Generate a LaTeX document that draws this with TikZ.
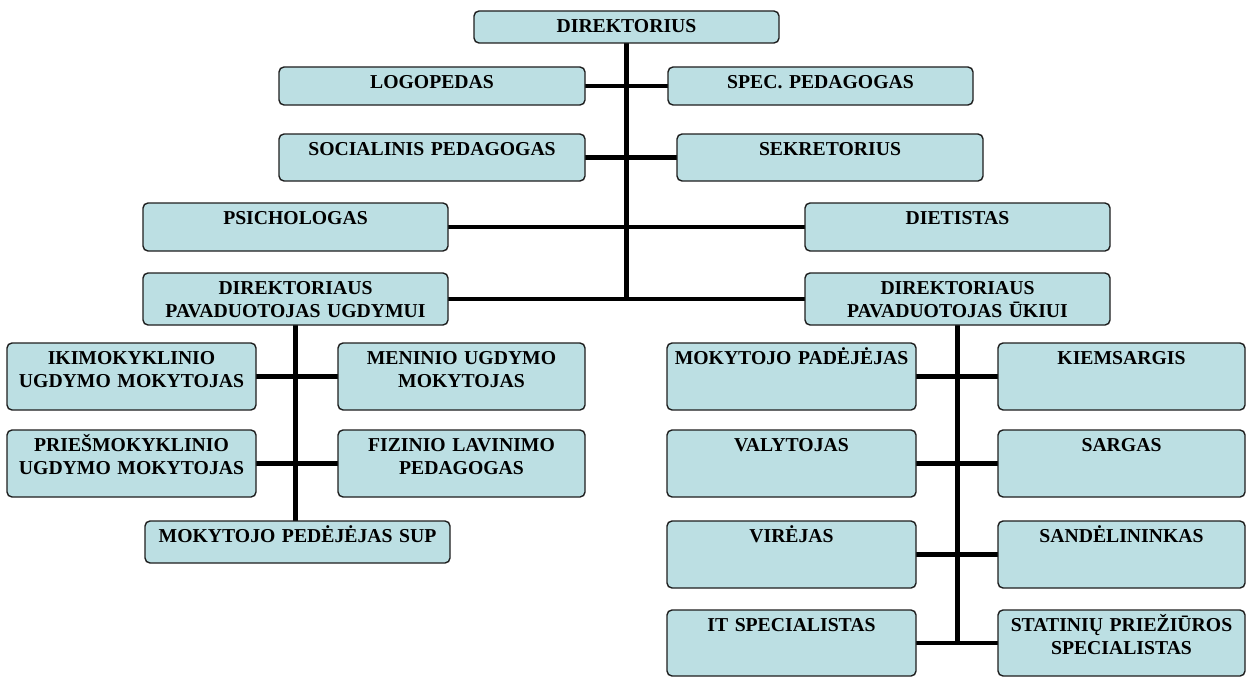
\documentclass[tikz,border=0pt]{standalone}
\usepackage{fontspec}
\setmainfont{Liberation Serif}
\usetikzlibrary{backgrounds}
\definecolor{boxfill}{RGB}{188,223,227}
\definecolor{boxline}{RGB}{30,30,30}
\tikzset{
  orgbox/.style={draw=boxline, line width=1.4pt, fill=boxfill, rounded corners=5pt,
    anchor=north west, inner sep=0pt, outer sep=0pt},
  orglab/.style={anchor=base, yshift=-21.5pt, text width=300pt, align=center,
    inner sep=0pt, text=black, font=\fontsize{19.7}{23}\selectfont\bfseries},
  vline/.style={line width=5pt, black},
  hline/.style={line width=4.6pt, black}
}
\newcommand{\OrgBox}[6]{\node[orgbox, minimum width={#4-#2}, minimum height={#5-#3},
  label={[orglab]north:#6}] (#1) at (#2,#3) {};}
\begin{document}
\begin{tikzpicture}[x=1pt,y=-1pt]
\useasboundingbox (0,0) rectangle (1252,677);
\OrgBox{dir}{474}{11}{779}{43}{DIREKTORIUS}
\OrgBox{logo}{279}{67}{585}{105}{LOGOPEDAS}
\OrgBox{spec}{668}{67}{973}{105}{SPEC. PEDAGOGAS}
\OrgBox{soc}{279}{134}{585}{181}{SOCIALINIS PEDAGOGAS}
\OrgBox{sek}{677}{134}{983}{181}{SEKRETORIUS}
\OrgBox{psi}{143}{203}{448}{251}{PSICHOLOGAS}
\OrgBox{diet}{805}{203}{1110}{251}{DIETISTAS}
\OrgBox{pu}{143}{273}{448}{325}{DIREKTORIAUS\\PAVADUOTOJAS UGDYMUI}
\OrgBox{pk}{805}{273}{1110}{325}{DIREKTORIAUS\\PAVADUOTOJAS ŪKIUI}
\OrgBox{iki}{7}{343}{256}{410}{IKIMOKYKLINIO\\UGDYMO MOKYTOJAS}
\OrgBox{men}{338}{343}{585}{410}{MENINIO UGDYMO\\MOKYTOJAS}
\OrgBox{pries}{7}{430}{256}{497}{PRIEŠMOKYKLINIO\\UGDYMO MOKYTOJAS}
\OrgBox{fiz}{338}{430}{585}{497}{FIZINIO LAVINIMO\\PEDAGOGAS}
\OrgBox{sup}{145}{521}{450}{563}{MOKYTOJO PEDĖJĖJAS SUP}
\OrgBox{mp}{667}{343}{916}{410}{MOKYTOJO PADĖJĖJAS}
\OrgBox{kiem}{998}{343}{1245}{410}{KIEMSARGIS}
\OrgBox{val}{667}{430}{916}{497}{VALYTOJAS}
\OrgBox{sar}{998}{430}{1245}{497}{SARGAS}
\OrgBox{vir}{667}{521}{916}{588}{VIRĖJAS}
\OrgBox{san}{998}{521}{1245}{588}{SANDĖLININKAS}
\OrgBox{it}{667}{610}{916}{676}{IT SPECIALISTAS}
\OrgBox{stat}{998}{610}{1245}{676}{STATINIŲ PRIEŽIŪROS\\SPECIALISTAS}
\begin{scope}[on background layer]
\draw[vline] (dir.south) -- (dir.south |- pu.east);
\draw[hline] (logo.east) -- (spec.west);
\draw[hline] (soc.east) -- (sek.west);
\draw[hline] (psi.east) -- (diet.west);
\draw[hline] (pu.east) -- (pk.west);
\draw[vline] (pu.south) -- (pu.south |- sup.north);
\draw[hline] (iki.east) -- (men.west);
\draw[hline] (pries.east) -- (fiz.west);
\draw[vline] (pk.south) -- (pk.south |- it.east);
\draw[hline] (mp.east) -- (kiem.west);
\draw[hline] (val.east) -- (sar.west);
\draw[hline] (vir.east) -- (san.west);
\draw[hline] (it.east) -- (stat.west);
\end{scope}
\end{tikzpicture}
\end{document}
